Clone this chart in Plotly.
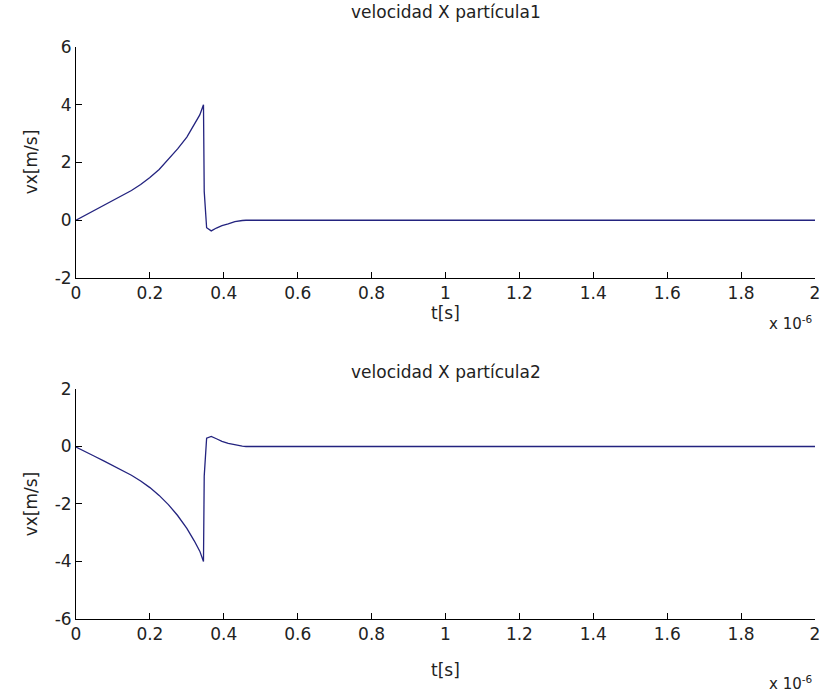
import plotly.graph_objects as go

# time in units of 1e-6 s
t1 = [0.0, 0.025, 0.05, 0.075, 0.10, 0.125, 0.15, 0.175, 0.20, 0.225, 0.25,
      0.275, 0.30, 0.32, 0.335, 0.345, 0.347, 0.3535, 0.366, 0.38, 0.395,
      0.412, 0.43, 0.45, 0.46, 2.0]
vx1 = [0.0, 0.17, 0.35, 0.52, 0.68, 0.85, 1.03, 1.24, 1.48, 1.76, 2.11,
       2.47, 2.88, 3.30, 3.65, 4.0, 1.0, -0.26, -0.37, -0.27, -0.19,
       -0.13, -0.05, -0.01, 0.0, 0.0]

t2 = [0.0, 0.025, 0.05, 0.075, 0.10, 0.125, 0.15, 0.175, 0.20, 0.225, 0.25,
      0.275, 0.30, 0.32, 0.335, 0.345, 0.347, 0.3535, 0.366, 0.38, 0.395,
      0.412, 0.43, 0.45, 0.46, 2.0]
vx2 = [-0.02, -0.17, -0.34, -0.50, -0.66, -0.82, -1.00, -1.20, -1.43, -1.70, -2.02,
       -2.40, -2.85, -3.28, -3.64, -4.0, -1.03, 0.29, 0.35, 0.27, 0.18,
       0.11, 0.05, 0.01, 0.0, 0.0]

x_ticks = [0, 0.2, 0.4, 0.6, 0.8, 1, 1.2, 1.4, 1.6, 1.8, 2]
x_labels = ["0", "0.2", "0.4", "0.6", "0.8", "1", "1.2", "1.4", "1.6", "1.8", "2"]
y1_ticks = [-2, 0, 2, 4, 6]
y1_labels = ["-2", "0", "2", "4", "6"]
y2_ticks = [-6, -4, -2, 0, 2]
y2_labels = ["-6", "-4", "-2", "0", "2"]

titles = ["velocidad X partícula1", "velocidad X partícula2"]
x_title = "t[s]"
y_title = "vx[m/s]"
x_exp = "x 10<sup>-6</sup>"

LINE = "#23237f"
FONT = "DejaVu Sans"
INK = "#222222"

fig = go.Figure()
fig.add_trace(go.Scatter(x=t1, y=vx1, mode="lines", line=dict(color=LINE, width=1.3),
                         xaxis="x", yaxis="y", showlegend=False))
fig.add_trace(go.Scatter(x=t2, y=vx2, mode="lines", line=dict(color=LINE, width=1.3),
                         xaxis="x2", yaxis="y2", showlegend=False))

axis_common = dict(showline=True, linecolor="black", linewidth=1, mirror=False,
                   ticks="inside", ticklen=6, tickcolor="black", tickwidth=1,
                   showgrid=False, zeroline=False,
                   tickfont=dict(family=FONT, size=17, color=INK))

fig.update_layout(
    width=828, height=694,
    margin=dict(l=76, r=8, t=47, b=75),
    paper_bgcolor="white", plot_bgcolor="white",
    xaxis=dict(domain=[0, 1], anchor="y", range=[0, 2], tickvals=x_ticks,
               ticktext=x_labels, **axis_common),
    yaxis=dict(domain=[0.5962, 1], anchor="x", range=[-2, 6], tickvals=y1_ticks,
               ticktext=y1_labels, **axis_common),
    xaxis2=dict(domain=[0, 1], anchor="y2", range=[0, 2], tickvals=x_ticks,
                ticktext=x_labels, **axis_common),
    yaxis2=dict(domain=[0, 0.4021], anchor="x2", range=[-6, 2], tickvals=y2_ticks,
                ticktext=y2_labels, **axis_common),
)

txt = dict(family=FONT, size=17, color=INK)
ann = []
for title, ty in zip(titles, [1.061, 0.4318]):
    ann.append(dict(text=title, x=0.5, y=ty, xref="paper", yref="paper",
                    xanchor="center", yanchor="middle", showarrow=False, font=txt))
for ty in [0.5350, -0.0900]:
    ann.append(dict(text=x_title, x=0.5, y=ty, xref="paper", yref="paper",
                    xanchor="center", yanchor="middle", showarrow=False, font=txt))
for ty in [0.5175, -0.1119]:
    ann.append(dict(text=x_exp, x=1.0, y=ty, xref="paper", yref="paper",
                    xanchor="right", yanchor="middle", showarrow=False,
                    font=dict(family=FONT, size=15, color=INK)))
for ty in [0.799, 0.201]:
    ann.append(dict(text=y_title, x=-0.0605, y=ty, xref="paper", yref="paper",
                    xanchor="center", yanchor="middle", textangle=-90,
                    showarrow=False, font=txt))
fig.update_layout(annotations=ann)

fig.write_html("out.html")
